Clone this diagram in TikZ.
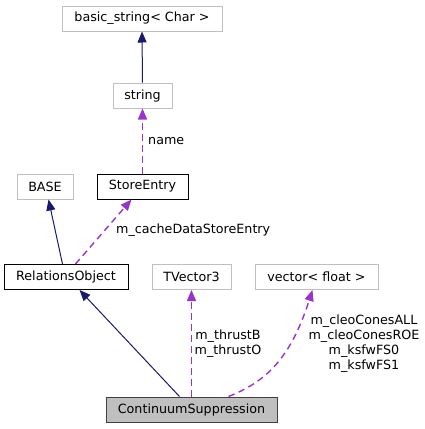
\documentclass[tikz,border=0pt]{standalone}
\usepackage{fontspec}
\setmainfont{DejaVu Sans}
\usetikzlibrary{arrows.meta}
\definecolor{navy}{HTML}{191970}
\definecolor{orchid}{HTML}{9A32CD}
\definecolor{boxgrey}{HTML}{BFBFBF}
\definecolor{darkb}{HTML}{404040}
\begin{document}
\begin{tikzpicture}[x=1pt,y=-1pt,
  every node/.style={font=\fontsize{12.7}{15}\selectfont},
  cls/.style={draw=boxgrey, line width=1pt, minimum height=25pt, inner sep=0pt, anchor=center},
  doc/.style={cls, draw=black},
  main/.style={cls, draw=darkb, fill=boxgrey},
  inh/.style={draw=navy, line width=1pt, -{Triangle[length=11pt,width=9pt]}},
  use/.style={draw=orchid, line width=1.4pt, dash pattern=on 6.5pt off 4.5pt, -{Triangle[length=11pt,width=9pt]}},
  lbl/.style={inner sep=0pt, align=left}
]
\useasboundingbox (0,0) rectangle (425,429);
\node[cls, minimum width=160pt] (bs) at (142,18.5) {basic\_string< Char >};
\node[cls, minimum width=59pt] (str) at (142.5,95.5) {string};
\node[cls, minimum width=56pt] (base) at (45,186.5) {BASE};
\node[doc, minimum width=91pt] (se) at (142.5,186.5) {StoreEntry};
\node[doc, minimum width=124pt] (ro) at (66,277) {RelationsObject};
\node[cls, minimum width=79pt] (tv) at (191.5,277) {TVector3};
\node[cls, minimum width=123pt] (vf) at (316.5,277) {vector< float >};
\node[main, minimum width=171pt] (cs) at (191.5,409.5) {ContinuumSuppression};

\draw[inh] (str.north) -- (bs.south);
\draw[use] (se.north) -- (str.south);
\node[lbl, anchor=west] (lname) at (148,141) {name};
\draw[inh] ([xshift=59pt]ro.north west) -- ([xshift=32pt]base.south west);
\draw[use] ([xshift=72pt]ro.north west) -- ([xshift=35pt]se.south west);
\node[lbl, anchor=west] (lcache) at (116,230) {m\_cacheDataStoreEntry};
\draw[inh] ([xshift=74pt]cs.north west) -- ([xshift=76pt]ro.south west);
\draw[use] (cs.north) -- (tv.south);
\node[lbl, align=center] (lthr) at (228,343.5) {m\_thrustB\\m\_thrustO};
\draw[use] ([xshift=123pt]cs.north west) .. controls (265,382) and (290,360) .. ([xshift=58pt]vf.south west);
\node[lbl, align=center] (lcleo) at (364,344) {m\_cleoConesALL\\m\_cleoConesROE\\m\_ksfwFS0\\m\_ksfwFS1};
\end{tikzpicture}
\end{document}
